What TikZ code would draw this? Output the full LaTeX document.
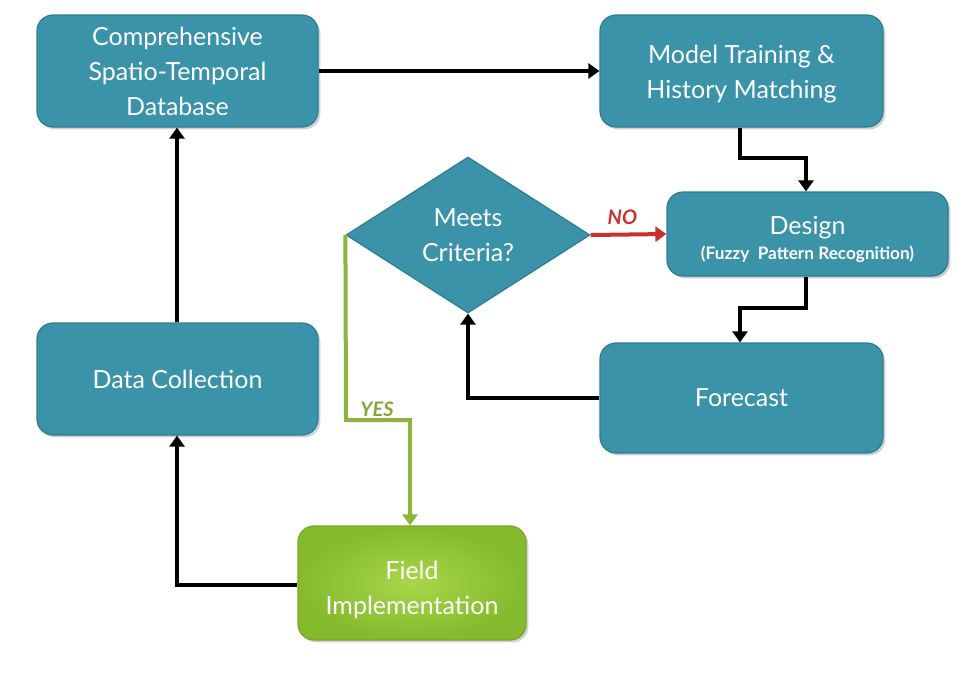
\documentclass[tikz,border=0pt]{standalone}
\usepackage{fontspec}
\setmainfont{Lato}
\usetikzlibrary{shapes.geometric,arrows.meta,shadows}
\definecolor{tealfill}{HTML}{3A93A9}
\definecolor{tealedge}{HTML}{2E7D90}
\definecolor{greenin}{HTML}{A8D64A}
\definecolor{greenout}{HTML}{84BA2C}
\definecolor{greenline}{HTML}{8DB43E}
\definecolor{yestext}{HTML}{85A63A}
\definecolor{redline}{HTML}{C8312C}
\tikzset{
  box/.style={draw=tealedge, line width=0.6pt, fill=tealfill, rounded corners=8pt,
    inner sep=2pt,
    drop shadow={opacity=0.35, shadow xshift=1.2pt, shadow yshift=-1.2pt}},
  gbox/.style={draw=greenout!90!black, line width=0.6pt, rounded corners=8pt,
    inner color=greenin, outer color=greenout, inner sep=2pt,
    drop shadow={opacity=0.35, shadow xshift=1.2pt, shadow yshift=-1.2pt}},
  boxtext/.style={text=white, align=center, inner sep=0pt,
    font=\fontsize{12.5}{17.5}\selectfont},
  dia/.style={shape=diamond, draw=tealedge, line width=0.6pt, fill=tealfill, inner sep=0pt,
    text=white, align=center, font=\fontsize{12.5}{17.5}\selectfont,
    minimum width=122pt, minimum height=78pt},
  conn/.style={line width=2pt, draw=black, -{Triangle[width=7.5pt,length=5.5pt]}},
  yesconn/.style={line width=2pt, draw=greenline, -{Triangle[width=7.5pt,length=5.5pt]}},
  noconn/.style={line width=2pt, draw=redline, -{Triangle[width=7.5pt,length=5.5pt]}},
  lbl/.style={font=\bfseries\itshape\fontsize{10}{12}\selectfont, inner sep=0pt}
}
\begin{document}
\begin{tikzpicture}[x=0.5pt,y=-0.5pt]
\useasboundingbox[fill=white] (0,0) rectangle (968,676);
% boxes
\node[box, boxtext, minimum width=140.5pt, minimum height=56pt] (db) at (177.5,71)
  {Comprehensive\\Spatio-Temporal\\Database};
\node[box, minimum width=141.5pt, minimum height=56pt] (mt) at (741.5,71) {};
\node[boxtext] (mtt) at ([yshift=-1.5pt]mt.center) {Model Training \&\\History Matching};
\node[box, minimum width=140.5pt, minimum height=42pt] (des) at (807.5,234) {};
\node[boxtext] (dest) at ([yshift=-2.5pt]des.center)
  {Design\\[-5pt]{\bfseries\fontsize{8.6}{10}\selectfont (Fuzzy\ \ Pattern Recognition)}};
\node[box, boxtext, minimum width=141.5pt, minimum height=55pt] (fc) at (741.5,398) {Forecast};
\node[box, boxtext, minimum width=140.5pt, minimum height=56pt] (dc) at (177.5,379) {Data Collection};
\node[gbox, minimum width=114pt, minimum height=57pt] (fi) at (412,583) {};
\node[boxtext] (fit) at ([yshift=-3.5pt]fi.center) {Field\\Implementation};
\node[dia] (crit) at (468,235) {Meets\\Criteria?};
% helper coordinates
\coordinate (a1) at (740,158);
\coordinate (a2) at (806,158);
\coordinate (b1) at (806,308);
\coordinate (b2) at (740,308);
\coordinate (f1) at (468,398);
\coordinate (y1) at (346,420);
\coordinate (y2) at (410,420);
\coordinate (d1) at (177,585);
% connectors
\draw[conn] (db.east) -- (mt.west);
\draw[conn] (mt.south -| a1) -- (a1) -- (a2) -- (des.north -| a2);
\draw[conn] (des.south -| b1) -- (b1) -- (b2) -- (fc.north -| b2);
\draw[conn] (fc.west |- f1) -- (f1) -- (crit.south);
\draw[noconn] (crit.east) -- (des.west) node[lbl, text=redline, pos=0.42, above=4pt] {NO};
\draw[yesconn] (crit.west) -- (y1) -- (y2) -- (y2 |- fi.north);
\node[lbl, text=yestext, anchor=south] (yes) at (377,417) {YES};
\draw[conn] (fi.west |- d1) -- (d1) -- (dc.south -| d1);
\draw[conn] (dc.north -| d1) -- (db.south -| d1);
\end{tikzpicture}
\end{document}
